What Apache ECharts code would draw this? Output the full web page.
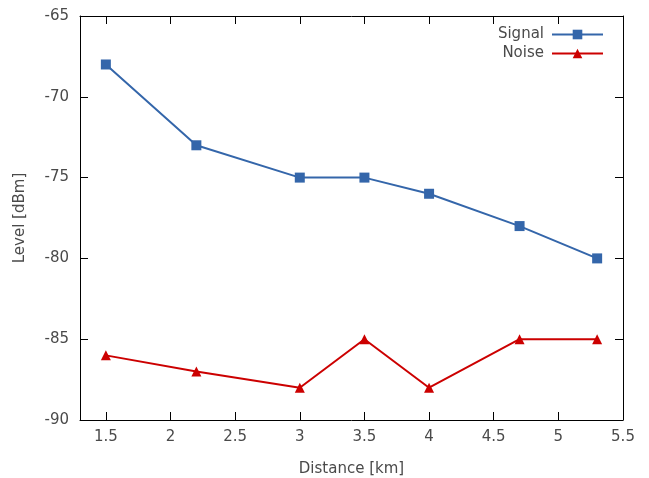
<!DOCTYPE html>
<html><head><meta charset="utf-8">
<script src="https://cdn.jsdelivr.net/npm/echarts@6/dist/echarts.min.js"></script>
<style>html,body{margin:0;padding:0;background:#fff}#c{width:649px;height:478px}</style>
</head><body><div id="c"></div>
<script>
const distance = [1.5, 2.2, 3, 3.5, 4, 4.7, 5.3];
const signal = [-68, -73, -75, -75, -76, -78, -80];
const noise = [-86, -87, -88, -85, -88, -85, -85];
const xTicks = [1.5, 2, 2.5, 3, 3.5, 4, 4.5, 5, 5.5];
const FONT = 'DejaVu Sans';
const TXT = '#4a4a4a';
const FS = 15;
const chart = echarts.init(document.getElementById('c'), null, {renderer: 'canvas'});
const axLine = {show: true, lineStyle: {color: '#000', width: 1}};
const tick = {show: true, inside: true, length: 8, lineStyle: {color: '#000'}};
chart.setOption({
  animation: false,
  textStyle: {fontFamily: FONT},
  grid: {left: 80, right: 26, top: 16, bottom: 58, containLabel: false, outerBoundsMode: 'none'},
  legend: {
    orient: 'vertical', right: 45, top: 27, align: 'right', padding: 0,
    itemWidth: 51, itemHeight: 12, itemGap: 4,
    textStyle: {fontFamily: FONT, fontSize: FS, color: TXT, padding: [0, 3, 0, 0]},
    data: ['Signal', 'Noise']
  },
  xAxis: [{
    type: 'value', min: 1.3, max: 5.5, position: 'bottom',
    name: 'Distance [km]', nameLocation: 'middle', nameGap: 42,
    nameTextStyle: {fontFamily: FONT, fontSize: FS, color: TXT},
    axisLine: axLine,
    axisTick: Object.assign({customValues: xTicks}, tick),
    axisLabel: {customValues: xTicks, fontFamily: FONT, fontSize: FS, color: TXT, margin: 10},
    splitLine: {show: false}
  }, {
    type: 'value', min: 1.3, max: 5.5, position: 'top',
    axisLine: axLine,
    axisTick: Object.assign({customValues: xTicks}, tick),
    axisLabel: {show: false},
    splitLine: {show: false}
  }],
  yAxis: [{
    type: 'value', min: -90, max: -65, interval: 5, position: 'left',
    name: 'Level [dBm]', nameLocation: 'middle', nameGap: 52,
    nameTextStyle: {fontFamily: FONT, fontSize: FS, color: TXT},
    axisLine: axLine, axisTick: tick,
    axisLabel: {fontFamily: FONT, fontSize: FS, color: TXT, margin: 11},
    splitLine: {show: false}
  }, {
    type: 'value', min: -90, max: -65, interval: 5, position: 'right',
    axisLine: axLine, axisTick: tick,
    axisLabel: {show: false},
    splitLine: {show: false}
  }],
  series: [{
    name: 'Signal', type: 'line',
    data: distance.map((d, i) => [d, signal[i]]),
    symbol: 'rect', symbolSize: 10,
    lineStyle: {color: '#3466aa', width: 2},
    itemStyle: {color: '#3466aa'}
  }, {
    name: 'Noise', type: 'line',
    data: distance.map((d, i) => [d, noise[i]]),
    symbol: 'triangle', symbolSize: 10,
    lineStyle: {color: '#cc0000', width: 2},
    itemStyle: {color: '#cc0000'}
  }]
});
</script></body></html>
